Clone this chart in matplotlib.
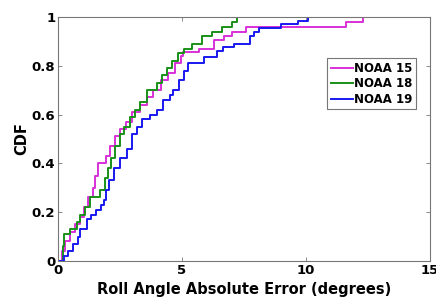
"""Recreate CDF of roll angle absolute error for three NOAA satellites."""

import matplotlib

matplotlib.use("Agg")
import matplotlib.pyplot as plt

# CDF breakpoints (error in degrees, cumulative fraction)
noaa15_x = [0.0, 0.15, 0.3, 0.5, 0.7, 0.9, 1.05, 1.2, 1.4, 1.5, 1.6, 1.95, 2.1, 2.3, 2.5, 2.75,
            3.0, 3.3, 3.6, 3.85, 4.15, 4.45, 4.7, 4.95, 5.05, 5.7, 6.3, 6.7, 7.0, 7.6, 11.6, 12.3]
noaa15_y = [0.0, 0.04, 0.08, 0.12, 0.15, 0.18, 0.22, 0.26, 0.30, 0.35, 0.40, 0.43, 0.47, 0.51, 0.54, 0.57,
            0.61, 0.64, 0.67, 0.70, 0.74, 0.77, 0.81, 0.84, 0.857, 0.87, 0.905, 0.92, 0.94, 0.96, 0.98, 1.0]

noaa18_x = [0.0, 0.2, 0.25, 0.5, 0.75, 0.9, 1.1, 1.3, 1.7, 1.9, 2.0, 2.15, 2.3, 2.5, 2.65, 2.9,
            3.1, 3.3, 3.6, 4.0, 4.2, 4.4, 4.6, 4.85, 5.1, 5.4, 5.8, 6.2, 6.6, 7.0, 7.2]
noaa18_y = [0.0, 0.06, 0.11, 0.13, 0.16, 0.19, 0.22, 0.26, 0.29, 0.34, 0.38, 0.42, 0.47, 0.52, 0.55, 0.59,
            0.62, 0.65, 0.70, 0.73, 0.76, 0.79, 0.82, 0.85, 0.87, 0.89, 0.92, 0.94, 0.96, 0.98, 1.0]

noaa19_x = [0.0, 0.25, 0.4, 0.6, 0.8, 0.9, 1.15, 1.35, 1.55, 1.75, 1.85, 1.95, 2.05, 2.25, 2.5, 2.8,
            3.0, 3.2, 3.4, 3.7, 4.0, 4.25, 4.5, 4.65, 4.9, 5.1, 5.25, 5.9, 6.4, 6.65, 7.1, 7.75,
            7.9, 8.1, 9.0, 9.7, 10.1]
noaa19_y = [0.0, 0.02, 0.04, 0.07, 0.10, 0.13, 0.17, 0.19, 0.21, 0.23, 0.25, 0.29, 0.33, 0.38, 0.42, 0.46,
            0.52, 0.55, 0.58, 0.60, 0.62, 0.66, 0.68, 0.70, 0.74, 0.78, 0.81, 0.835, 0.86, 0.877, 0.89, 0.92,
            0.94, 0.955, 0.97, 0.985, 1.0]

series = [
    ("NOAA 15", noaa15_x, noaa15_y, "#d830d8"),
    ("NOAA 18", noaa18_x, noaa18_y, "#189018"),
    ("NOAA 19", noaa19_x, noaa19_y, "#1818f0"),
]

x_ticks = [0, 5, 10, 15]
y_ticks = [0, 0.2, 0.4, 0.6, 0.8, 1.0]
y_tick_labels = ["0", "0.2", "0.4", "0.6", "0.8", "1"]


def main():
    fig = plt.figure(figsize=(4.36, 3.07), dpi=100)
    ax = fig.add_axes([0.133, 0.150, 0.853, 0.795])

    for label, xs, ys, color in series:
        ax.plot(xs, ys, drawstyle="steps-post", color=color, linewidth=1.4, label=label)

    ax.set_xlim(0, 15)
    ax.set_ylim(0, 1)
    ax.set_xticks(x_ticks)
    ax.set_xticklabels([str(t) for t in x_ticks], fontweight="bold", fontsize=9.5)
    ax.set_yticks(y_ticks)
    ax.set_yticklabels(y_tick_labels, fontweight="bold", fontsize=9.5)
    ax.tick_params(direction="in", top=True, right=True, length=3, width=0.6,
                   color="#777777", pad=2)
    for spine in ax.spines.values():
        spine.set_color("#777777")
        spine.set_linewidth(0.8)

    ax.set_xlabel("Roll Angle Absolute Error (degrees)", fontweight="bold", fontsize=10.5, labelpad=4)
    ax.set_ylabel("CDF", fontweight="bold", fontsize=10.5, labelpad=2)

    leg = ax.legend(loc="upper right", bbox_to_anchor=(0.963, 0.83), fancybox=False,
                    prop={"weight": "bold", "size": 8.5}, handlelength=1.9, handletextpad=0.1,
                    borderpad=0.3, labelspacing=0.2, borderaxespad=0)
    leg.get_frame().set_edgecolor("#555555")
    leg.get_frame().set_linewidth(0.8)

    fig.savefig("out.png", dpi=100)
    plt.close(fig)


if __name__ == "__main__":
    main()
